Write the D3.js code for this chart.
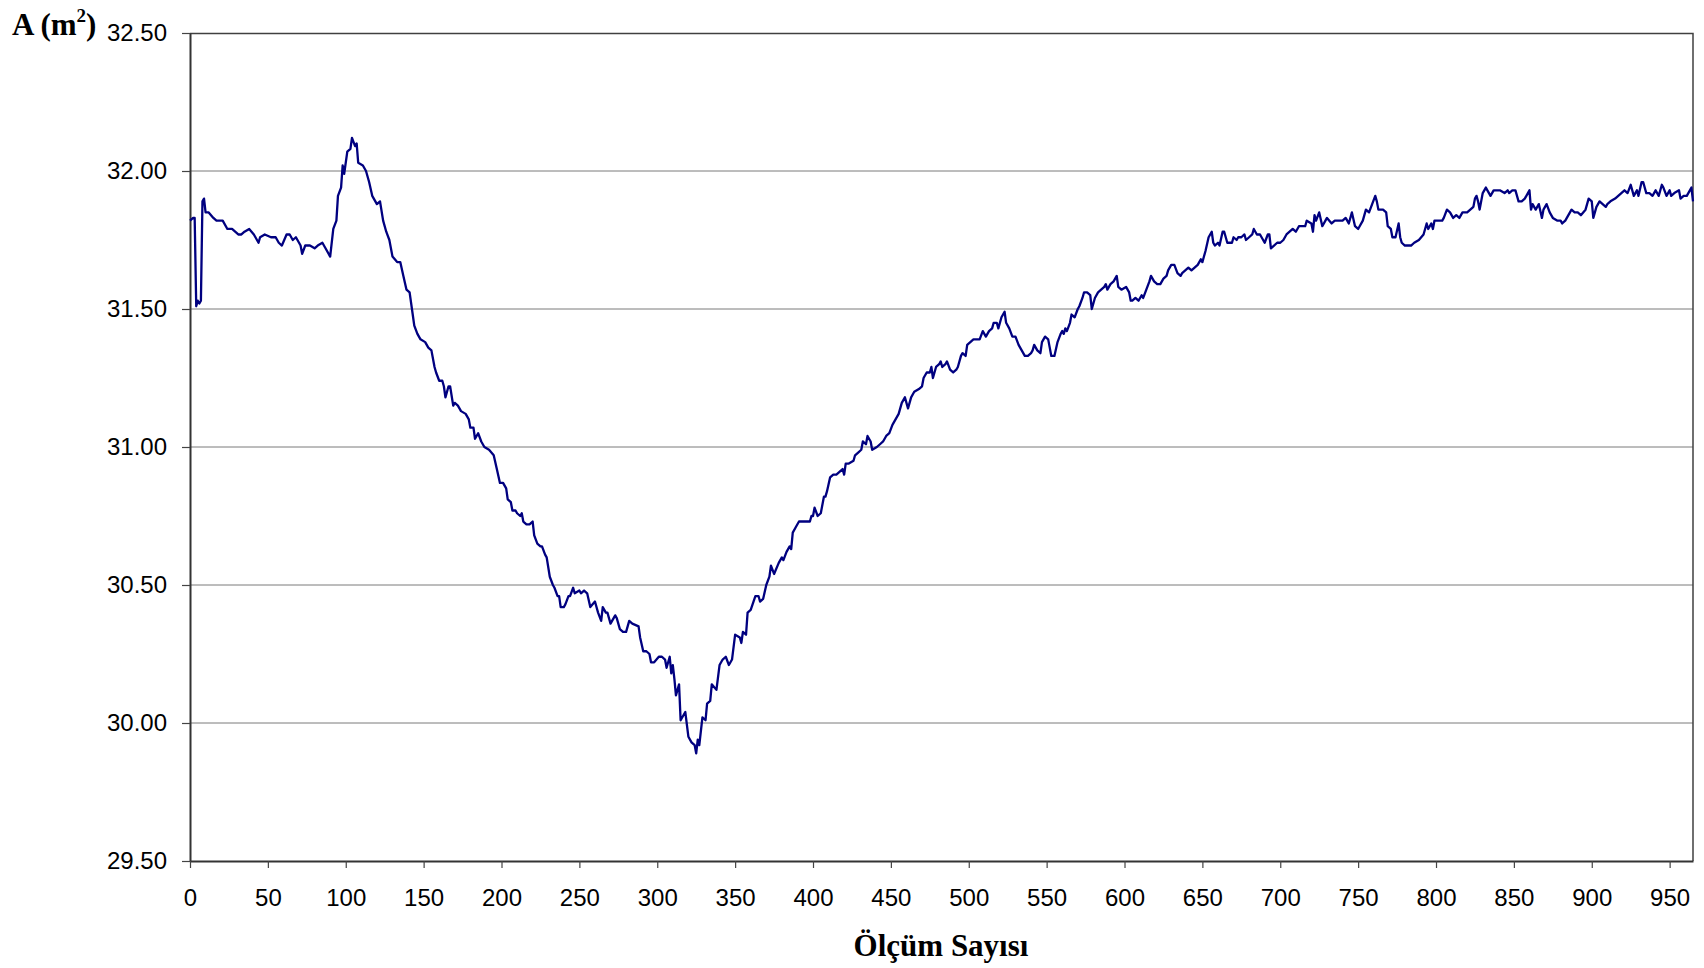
<!DOCTYPE html>
<html>
<head>
<meta charset="utf-8">
<script src="https://cdn.jsdelivr.net/npm/d3@7"></script>
<style>
body { margin: 0; background: #fff; }
.tick text { font-family: "Liberation Sans", Arial, sans-serif; font-size: 24px; fill: #000; }
.title { font-family: "Liberation Serif", "Times New Roman", serif; font-weight: bold; font-size: 31px; fill: #000; }
</style>
</head>
<body>
<div id="chart"></div>
<script>
// Ölçüm sayısı (x) and A (m2) values
const olcum = [
  0,2,3,4,5,6,7,8,9,10,12,15,17,19,21,24,27,29,31,33,35,38,41,44,45,48,52,55,57,59,62,64,66,68,71,72,74,77,80,
  82,85,87,90,92,94,95,97,98,99,101,103,104,106,107,108,111,113,115,117,120,
  122,124,126,128,130,133,135,137,139,141,143,144,146,148,151,153,155,157,158,160,162,163,164,166,167,169,170,172,174,177,179,180,182,183,185,187,189,192,195,197,199,201,203,204,206,207,209,210,212,213,214,216,218,220,221,223,225,226,228,229,231,233,234,236,237,238,240,241,243,244,246,247,250,251,253,255,
  257,260,262,264,265,267,268,270,273,274,276,278,280,282,284,288,289,291,293,295,296,298,301,303,305,306,308,309,310,311,312,314,315,317,318,320,322,324,325,326,327,
  329,331,332,334,335,338,340,342,344,346,348,350,353,354,355,357,358,360,363,365,366,368,370,372,373,375,378,380,381,383,385,386,387,389,391,393,396,398,399,400,401,403,405,407,408,409,411,413,415,417,419,420,421,423,426,427,429,431,432,434,435,437,438,441,443,445,447,449,451,453,455,
  457,459,461,463,465,468,470,471,473,475,476,477,479,481,482,483,485,486,488,490,492,493,495,496,498,499,501,503,505,507,509,511,513,515,516,518,519,521,522,523,524,526,528,530,532,534,536,538,540,541,542,544,546,547,549,551,552,553,555,557,559,560,561,562,563,565,566,568,570,571,573,574,576,578,579,581,583,585,587,588,589,591,593,595,596,
  598,601,603,604,605,607,609,611,612,614,616,617,619,621,623,625,627,628,630,632,634,636,637,639,641,643,645,647,649,650,651,652,654,655,656,657,658,660,661,663,664,666,667,669,670,672,673,675,677,678,680,682,683,685,687,688,690,692,693,694,696,698,700,702,704,706,708,710,712,
  713,716,717,720,721,722,723,725,727,729,730,733,735,738,740,742,744,746,748,750,753,755,757,759,761,762,763,765,766,768,769,771,772,774,776,777,778,780,782,784,786,789,792,794,795,797,798,799,802,804,805,807,809,811,813,815,817,820,822,824,825,826,827,828,830,832,833,835,837,839,841,844,846,847,849,851,853,855,857,859,860,861,862,864,866,868,869,871,873,875,878,880,
  881,883,885,887,889,891,893,896,898,900,901,903,905,907,909,910,912,915,917,919,921,923,925,927,929,930,932,933,935,937,939,941,943,945,946,948,950,951,953,956,957,959,961,963,964,965
];
const alan = [
  31.82,31.83,31.83,31.51,31.53,31.52,31.53,31.89,31.90,31.85,31.85,31.83,31.82,31.82,31.82,31.79,31.79,31.78,31.77,31.77,31.78,31.79,31.77,31.74,31.76,31.77,31.76,31.76,31.74,31.73,31.77,31.77,31.75,31.76,31.73,31.70,31.73,31.73,31.72,
  31.73,31.74,31.72,31.69,31.79,31.82,31.91,31.94,32.02,31.99,32.07,32.08,32.12,32.09,32.10,32.03,32.02,32.00,31.96,31.91,31.88,
  31.89,31.82,31.78,31.75,31.69,31.67,31.67,31.62,31.57,31.56,31.48,31.44,31.41,31.39,31.38,31.36,31.35,31.29,31.27,31.24,31.24,31.22,31.18,31.22,31.22,31.15,31.16,31.15,31.13,31.12,31.10,31.07,31.07,31.03,31.05,31.02,31.00,30.99,30.97,30.92,30.87,30.87,30.85,30.81,30.80,30.77,30.77,30.76,30.75,30.76,30.73,30.72,30.72,30.73,30.68,30.65,30.64,30.64,30.61,30.60,30.53,30.50,30.49,30.46,30.46,30.42,30.42,30.43,30.46,30.46,30.49,30.47,30.48,30.47,30.48,30.47,
  30.42,30.44,30.40,30.37,30.42,30.40,30.40,30.36,30.39,30.38,30.34,30.33,30.33,30.37,30.36,30.35,30.31,30.26,30.26,30.25,30.22,30.22,30.24,30.24,30.23,30.20,30.24,30.18,30.21,30.16,30.10,30.14,30.01,30.03,30.04,29.95,29.93,29.92,29.89,29.94,29.92,
  30.02,30.01,30.07,30.08,30.14,30.12,30.21,30.23,30.24,30.21,30.23,30.32,30.31,30.29,30.33,30.32,30.40,30.41,30.46,30.46,30.44,30.45,30.50,30.53,30.57,30.54,30.58,30.60,30.59,30.62,30.64,30.63,30.69,30.71,30.73,30.73,30.73,30.73,30.75,30.75,30.78,30.75,30.76,30.82,30.82,30.84,30.89,30.90,30.90,30.91,30.92,30.90,30.94,30.94,30.95,30.97,30.98,30.99,31.02,31.01,31.04,31.02,30.99,31.00,31.01,31.02,31.04,31.05,31.08,31.10,31.12,
  31.16,31.18,31.14,31.18,31.20,31.21,31.22,31.25,31.27,31.27,31.29,31.25,31.29,31.30,31.31,31.29,31.30,31.31,31.28,31.27,31.28,31.29,31.33,31.34,31.33,31.37,31.38,31.39,31.39,31.39,31.42,31.40,31.42,31.43,31.45,31.45,31.43,31.47,31.48,31.49,31.45,31.43,31.40,31.40,31.37,31.35,31.33,31.33,31.34,31.35,31.37,31.35,31.34,31.38,31.40,31.39,31.36,31.33,31.33,31.38,31.41,31.42,31.41,31.43,31.42,31.45,31.48,31.47,31.50,31.51,31.54,31.56,31.56,31.55,31.50,31.54,31.56,31.57,31.58,31.59,31.57,31.59,31.60,31.62,31.58,
  31.57,31.58,31.56,31.53,31.53,31.54,31.53,31.55,31.54,31.57,31.60,31.62,31.60,31.59,31.59,31.61,31.62,31.64,31.66,31.66,31.63,31.62,31.63,31.64,31.65,31.64,31.65,31.66,31.68,31.67,31.69,31.71,31.76,31.77,31.78,31.74,31.73,31.74,31.73,31.78,31.78,31.74,31.74,31.74,31.76,31.75,31.76,31.76,31.77,31.75,31.76,31.77,31.79,31.77,31.77,31.76,31.74,31.77,31.77,31.72,31.73,31.74,31.74,31.75,31.77,31.78,31.79,31.78,31.80,
  31.80,31.80,31.82,31.81,31.78,31.84,31.82,31.85,31.80,31.82,31.83,31.81,31.82,31.82,31.82,31.83,31.81,31.85,31.80,31.79,31.82,31.86,31.85,31.88,31.91,31.89,31.86,31.86,31.86,31.85,31.80,31.79,31.76,31.76,31.81,31.76,31.74,31.73,31.73,31.73,31.74,31.75,31.77,31.81,31.79,31.81,31.79,31.82,31.82,31.82,31.83,31.86,31.85,31.83,31.84,31.83,31.85,31.85,31.86,31.87,31.90,31.91,31.89,31.86,31.92,31.94,31.93,31.91,31.93,31.93,31.93,31.92,31.93,31.92,31.93,31.93,31.89,31.89,31.90,31.92,31.93,31.86,31.88,31.86,31.88,31.83,31.86,31.88,31.85,31.83,31.82,31.82,
  31.81,31.82,31.84,31.86,31.85,31.85,31.84,31.86,31.90,31.89,31.83,31.87,31.89,31.88,31.87,31.88,31.89,31.90,31.91,31.92,31.93,31.92,31.95,31.91,31.93,31.91,31.96,31.96,31.92,31.92,31.91,31.93,31.91,31.95,31.94,31.91,31.93,31.91,31.92,31.93,31.90,31.91,31.91,31.93,31.94,31.89
];
const yTicks = [29.5, 30.0, 30.5, 31.0, 31.5, 32.0, 32.5];
const xTicks = [0, 50, 100, 150, 200, 250, 300, 350, 400, 450, 500, 550, 600, 650, 700, 750, 800, 850, 900, 950];
const xMax = 965;

const dms = {
    width: 1704,
    height: 968,
    margin: { top: 33, right: 11, bottom: 107, left: 190 }
};
dms.contentWidth = dms.width - dms.margin.left - dms.margin.right;
dms.contentHeight = dms.height - dms.margin.top - dms.margin.bottom;

const svg = d3.select('#chart').append('svg')
    .attr('width', dms.width)
    .attr('height', dms.height)
    .style('background', '#fff');

const content = svg.append('g')
    .attr('transform', `translate(${dms.margin.left},${dms.margin.top})`);

const x = d3.scaleLinear().domain([0, xMax]).range([0, dms.contentWidth]);
const y = d3.scaleLinear().domain([29.5, 32.5]).range([dms.contentHeight, 0]);

// gridlines
content.append('g').selectAll('line')
    .data(yTicks.slice(1, -1))
    .join('line')
    .attr('x1', 0).attr('x2', dms.contentWidth)
    .attr('y1', d => y(d)).attr('y2', d => y(d))
    .attr('stroke', '#7a7a7a').attr('stroke-width', 1);

// plot frame top + right
content.append('path')
    .attr('d', `M0,0.5H${dms.contentWidth}V${dms.contentHeight}`)
    .attr('fill', 'none').attr('stroke', '#404040').attr('stroke-width', 1.5);

// axes
const yAxis = content.append('g')
    .call(d3.axisLeft(y).tickValues(yTicks).tickFormat(d3.format('.2f')).tickSize(8).tickSizeOuter(0).tickPadding(15));
const xAxis = content.append('g')
    .attr('transform', `translate(0,${dms.contentHeight})`)
    .call(d3.axisBottom(x).tickValues(xTicks).tickFormat(d3.format('d')).tickSize(7).tickSizeOuter(0).tickPadding(21));
[yAxis, xAxis].forEach(a => {
    a.select('.domain').attr('stroke', '#333').attr('stroke-width', 2);
    a.selectAll('.tick line').attr('stroke', '#444').attr('stroke-width', 1.2);
    a.attr('font-family', null).attr('font-size', null);
});

// series
const pts = olcum.map((d, i) => ({ n: d, a: alan[i] }));
const lineGen = d3.line().x(d => x(d.n)).y(d => y(d.a));
content.append('path')
    .datum(pts)
    .attr('d', lineGen)
    .attr('fill', 'none')
    .attr('stroke', '#000080')
    .attr('stroke-width', 2.3)
    .attr('stroke-linejoin', 'round');

// titles
const yTitle = svg.append('text').attr('class', 'title').attr('x', 12).attr('y', 35);
yTitle.append('tspan').text('A (m');
yTitle.append('tspan').attr('font-size', 19).attr('dy', -13).text('2');
yTitle.append('tspan').attr('dy', 13).text(')');

svg.append('text').attr('class', 'title')
    .attr('x', 941).attr('y', 956)
    .attr('text-anchor', 'middle')
    .text('Ölçüm Sayısı');
</script>
</body>
</html>
